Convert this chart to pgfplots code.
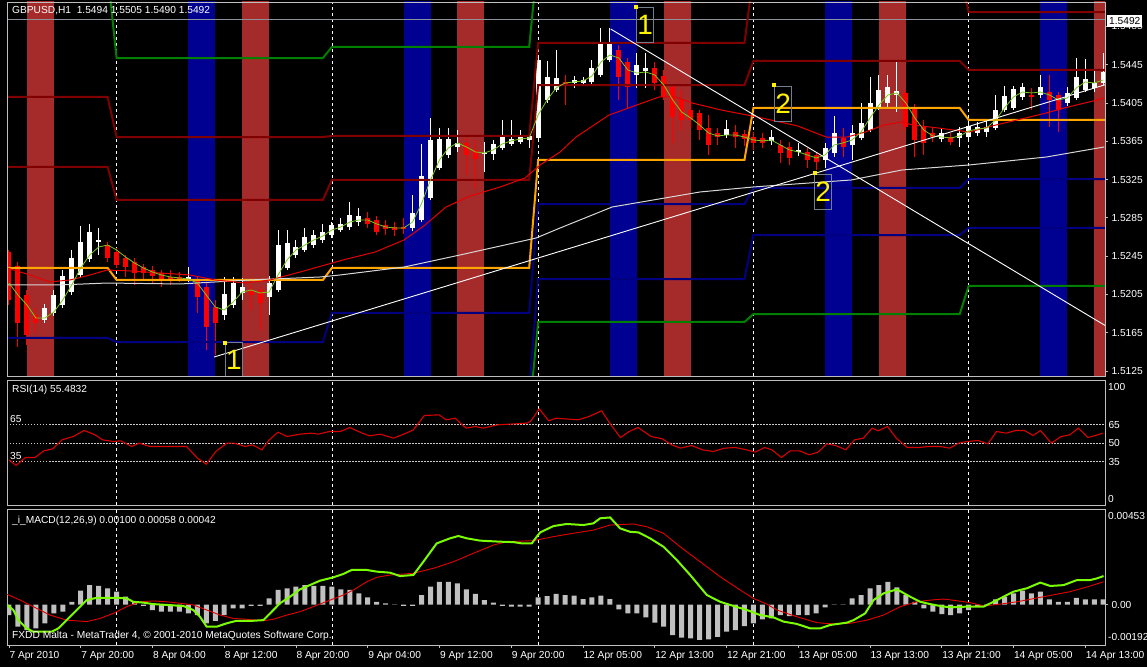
\documentclass[border=0pt]{standalone}
\usepackage{fontspec}
\setmainfont{Liberation Sans}
\usepackage{pgfplots}
\usepackage{pgfplotstable}
\pgfplotsset{compat=1.18}

\definecolor{bandred}{RGB}{165,42,42}
\definecolor{bandblue}{RGB}{0,0,145}
\definecolor{pivmaroon}{RGB}{128,0,0}
\definecolor{pivnavy}{RGB}{0,0,128}
\definecolor{pivgreen}{RGB}{0,128,0}
\definecolor{pivorange}{RGB}{255,165,0}
\definecolor{macdgreen}{RGB}{124,252,0}
\definecolor{histgray}{RGB}{192,192,192}
\definecolor{framec}{RGB}{190,190,190}
\definecolor{maslow}{RGB}{215,215,215}
\definecolor{mafast}{RGB}{120,200,30}
\definecolor{mared}{RGB}{230,0,0}
\definecolor{boxgray}{RGB}{112,128,144}
\definecolor{bidgray}{RGB}{140,145,155}

\newcommand{\mtf}{\fontsize{10.2}{12}\selectfont}

% GBPUSD H1 candles, bar index i
\pgfplotstableread{
i o h l c
4 1.51783 1.51950 1.51752 1.51908
5 1.51856 1.52096 1.51825 1.52044
6 1.51940 1.52305 1.51908 1.52243
7 1.52075 1.52514 1.52044 1.52430
8 1.52253 1.52765 1.52222 1.52598
9 1.52420 1.52786 1.52389 1.52702
10 1.52598 1.52744 1.52462 1.52619
20 1.52211 1.52336 1.52180 1.52232
24 1.51835 1.52232 1.51783 1.52054
25 1.51940 1.52232 1.51908 1.52169
26 1.52065 1.52222 1.51992 1.52128
29 1.52023 1.52243 1.51835 1.52169
30 1.52096 1.52723 1.52075 1.52566
31 1.52326 1.52723 1.52305 1.52587
32 1.52462 1.52619 1.52430 1.52545
33 1.52514 1.52744 1.52493 1.52650
34 1.52566 1.52723 1.52535 1.52671
35 1.52619 1.52786 1.52587 1.52702
36 1.52671 1.52806 1.52639 1.52775
37 1.52723 1.52848 1.52702 1.52786
38 1.52754 1.53015 1.52723 1.52880
39 1.52806 1.52953 1.52765 1.52869
45 1.52744 1.53088 1.52712 1.52901
46 1.52827 1.53621 1.52806 1.53287
47 1.53057 1.53893 1.53037 1.53663
48 1.53370 1.53788 1.53350 1.53673
49 1.53507 1.53788 1.53475 1.53673
50 1.53590 1.53767 1.53538 1.53632
53 1.53517 1.53642 1.53329 1.53527
54 1.53517 1.53663 1.53455 1.53621
55 1.53580 1.53872 1.53559 1.53694
56 1.53621 1.53872 1.53601 1.53673
57 1.53642 1.53767 1.53621 1.53694
58 1.53663 1.53746 1.53580 1.53705
59 1.53684 1.54551 1.53663 1.54498
60 1.54081 1.54488 1.54049 1.54321
61 1.54185 1.54603 1.54164 1.54310
63 1.54258 1.54331 1.54206 1.54290
64 1.54258 1.54321 1.54227 1.54290
65 1.54269 1.54498 1.54248 1.54415
66 1.54342 1.54833 1.54321 1.54676
67 1.54498 1.54833 1.54477 1.54676
70 1.54342 1.54571 1.54206 1.54446
71 1.54383 1.54571 1.54206 1.54415
80 1.53715 1.53872 1.53684 1.53778
85 1.53653 1.53767 1.53611 1.53694
88 1.53538 1.53632 1.53496 1.53559
91 1.53455 1.53632 1.53370 1.53580
92 1.53527 1.53914 1.53486 1.53736
94 1.53611 1.53820 1.53455 1.53736
95 1.53684 1.54049 1.53663 1.53840
96 1.53767 1.54321 1.53746 1.54049
97 1.54007 1.54342 1.53976 1.54185
98 1.54049 1.54342 1.53997 1.54216
99 1.54133 1.54477 1.53955 1.54175
104 1.53673 1.53788 1.53642 1.53736
106 1.53684 1.53799 1.53590 1.53736
107 1.53694 1.53872 1.53663 1.53809
108 1.53736 1.53851 1.53705 1.53799
109 1.53746 1.53872 1.53694 1.53799
110 1.53788 1.54133 1.53767 1.53976
111 1.53976 1.54227 1.53955 1.54122
112 1.53997 1.54227 1.53976 1.54195
113 1.54112 1.54258 1.54081 1.54216
115 1.54133 1.54342 1.54102 1.54216
118 1.54049 1.54216 1.54018 1.54154
119 1.54102 1.54519 1.54081 1.54321
120 1.54185 1.54509 1.54164 1.54300
121 1.54206 1.54394 1.54164 1.54258
122 1.54258 1.54571 1.54237 1.54373
}\bull

\pgfplotstableread{
i o h l c
0 1.52493 1.52514 1.51940 1.51992
1 1.52347 1.52389 1.51501 1.51752
2 1.52044 1.52096 1.51522 1.51626
3 1.51835 1.51908 1.51647 1.51752
11 1.52566 1.52598 1.52389 1.52430
12 1.52493 1.52535 1.52326 1.52357
13 1.52430 1.52462 1.52232 1.52336
14 1.52389 1.52430 1.52149 1.52274
15 1.52336 1.52368 1.52201 1.52274
16 1.52305 1.52347 1.52169 1.52243
17 1.52274 1.52305 1.52128 1.52201
18 1.52232 1.52305 1.52149 1.52201
19 1.52232 1.52284 1.52180 1.52201
21 1.52201 1.52232 1.51856 1.52023
22 1.52128 1.52169 1.51470 1.51710
23 1.51919 1.51992 1.51417 1.51752
27 1.52096 1.52149 1.51887 1.52044
28 1.52096 1.52128 1.51678 1.51960
40 1.52848 1.52911 1.52744 1.52786
41 1.52827 1.52869 1.52671 1.52702
42 1.52775 1.52827 1.52671 1.52733
43 1.52754 1.52806 1.52660 1.52723
44 1.52754 1.52848 1.52681 1.52733
51 1.53632 1.53684 1.53298 1.53507
52 1.53559 1.53663 1.53162 1.53465
62 1.54269 1.54342 1.54028 1.54237
68 1.54603 1.54655 1.54081 1.54321
69 1.54477 1.54519 1.53997 1.54216
72 1.54415 1.54477 1.54185 1.54258
73 1.54331 1.54394 1.54081 1.54112
74 1.54216 1.54237 1.53632 1.53903
75 1.54081 1.54185 1.53767 1.53872
76 1.53976 1.54081 1.53788 1.53872
77 1.53945 1.53976 1.53663 1.53767
78 1.53788 1.53924 1.53507 1.53611
79 1.53736 1.53788 1.53611 1.53694
81 1.53746 1.53820 1.53580 1.53694
82 1.53726 1.53767 1.53601 1.53673
83 1.53694 1.53746 1.53559 1.53632
84 1.53684 1.53736 1.53580 1.53632
86 1.53611 1.53663 1.53423 1.53527
87 1.53590 1.53642 1.53402 1.53475
89 1.53538 1.53580 1.53370 1.53455
90 1.53507 1.53538 1.53350 1.53433
93 1.53684 1.53788 1.53486 1.53590
100 1.54154 1.54185 1.53767 1.53799
101 1.53997 1.54039 1.53486 1.53663
102 1.53799 1.53872 1.53507 1.53632
103 1.53736 1.53788 1.53642 1.53694
105 1.53694 1.53736 1.53611 1.53642
114 1.54133 1.54206 1.53976 1.54112
116 1.54164 1.54342 1.53799 1.54081
117 1.54133 1.54164 1.53746 1.53976
}\bear

% fast moving average
\pgfplotstableread{
i v
0 1.52169
1 1.52044
2 1.51940
3 1.51804
4 1.51804
5 1.51866
6 1.51992
7 1.52149
8 1.52326
9 1.52462
10 1.52545
11 1.52566
12 1.52514
13 1.52441
14 1.52378
15 1.52326
16 1.52284
17 1.52253
18 1.52232
19 1.52222
20 1.52211
21 1.52169
22 1.52044
23 1.51919
24 1.51887
25 1.51971
26 1.52075
27 1.52096
28 1.52065
29 1.52075
30 1.52253
31 1.52410
32 1.52514
33 1.52566
34 1.52619
35 1.52660
36 1.52723
37 1.52754
38 1.52806
39 1.52827
40 1.52827
41 1.52786
42 1.52754
43 1.52744
44 1.52744
45 1.52806
46 1.53000
47 1.53245
48 1.53455
49 1.53580
50 1.53632
51 1.53590
52 1.53538
53 1.53527
54 1.53559
55 1.53621
56 1.53653
57 1.53673
58 1.53684
59 1.53924
60 1.54081
61 1.54206
62 1.54258
63 1.54269
64 1.54279
65 1.54331
66 1.54477
67 1.54551
68 1.54519
69 1.54394
70 1.54362
71 1.54373
72 1.54342
73 1.54237
74 1.54081
75 1.53955
76 1.53893
77 1.53820
78 1.53736
79 1.53705
80 1.53715
81 1.53715
82 1.53694
83 1.53663
84 1.53653
85 1.53663
86 1.53611
87 1.53559
88 1.53538
89 1.53507
90 1.53475
91 1.53507
92 1.53611
93 1.53632
94 1.53663
95 1.53746
96 1.53893
97 1.54028
98 1.54133
99 1.54154
100 1.54049
101 1.53893
102 1.53767
103 1.53705
104 1.53694
105 1.53684
106 1.53705
107 1.53757
108 1.53778
109 1.53788
110 1.53872
111 1.53997
112 1.54112
113 1.54164
114 1.54154
115 1.54164
116 1.54133
117 1.54081
118 1.54102
119 1.54206
120 1.54269
121 1.54258
122 1.54290
}\mafastT

% MACD histogram
\pgfplotstableread{
i h
0 -0.00050
1 -0.00105
2 -0.00121
3 -0.00113
4 -0.00089
5 -0.00042
6 -0.00034
7 0.00013
8 0.00066
9 0.00092
10 0.00088
11 0.00077
12 0.00061
13 0.00037
14 0.00013
15 -0.00007
16 -0.00026
17 -0.00034
18 -0.00034
19 -0.00034
20 -0.00042
21 -0.00050
22 -0.00089
23 -0.00077
24 -0.00050
25 -0.00018
26 -0.00018
27 -0.00007
28 -0.00007
29 0.00029
30 0.00069
31 0.00077
32 0.00085
33 0.00092
34 0.00088
35 0.00088
36 0.00085
37 0.00072
38 0.00069
39 0.00053
40 0.00034
41 0.00013
42 0.00006
43 -0.00002
44 -0.00007
45 -0.00007
46 0.00045
47 0.00085
48 0.00108
49 0.00108
50 0.00100
51 0.00072
52 0.00050
53 0.00021
54 0.00009
55 -0.00007
56 -0.00010
57 -0.00010
58 -0.00010
59 0.00034
60 0.00040
61 0.00050
62 0.00045
63 0.00042
64 0.00026
65 0.00034
66 0.00042
67 0.00026
68 -0.00023
69 -0.00042
70 -0.00042
71 -0.00061
72 -0.00086
73 -0.00105
74 -0.00145
75 -0.00157
76 -0.00160
77 -0.00168
78 -0.00165
79 -0.00153
80 -0.00129
81 -0.00121
82 -0.00102
83 -0.00089
84 -0.00070
85 -0.00066
86 -0.00050
87 -0.00055
88 -0.00050
89 -0.00050
90 -0.00042
91 -0.00013
92 -0.00002
93 -0.00002
94 0.00029
95 0.00045
96 0.00077
97 0.00092
98 0.00108
99 0.00081
100 0.00045
101 0.00013
102 -0.00018
103 -0.00034
104 -0.00045
105 -0.00050
106 -0.00042
107 -0.00026
108 -0.00007
109 -0.00002
110 0.00025
111 0.00037
112 0.00053
113 0.00066
114 0.00053
115 0.00061
116 0.00025
117 0.00013
118 0.00013
119 0.00032
120 0.00025
121 0.00025
122 0.00025
}\macdhist

\pgfplotsset{
  mt/.style={
    scale only axis, width=1098pt,
    xmin=-0.22, xmax=122.2,
    axis line style={framec, line width=0.8pt},
    xtick=\empty,
    extra x ticks={12,36,59,83,107},
    extra x tick labels={},
    extra x tick style={grid=major, major tick length=0pt},
    x grid style={white, line width=0.7pt, dash pattern=on 3pt off 3pt},
    tick label style={font=\mtf, text=white},
    scaled y ticks=false,
    anchor=south west,
  },
  wick/.style={draw=none, mark=none, forget plot,
    error bars/.cd, y dir=plus, y explicit, error mark=none,
    error bar style={draw=#1, line width=1pt}},
  body/.style={draw=none, mark=none, forget plot,
    error bars/.cd, y dir=plus, y explicit, error mark=none,
    error bar style={draw=#1, line width=5pt}},
  piv/.style={#1, line width=2pt, forget plot},
}
\tikzset{
  lbl/.style={draw=boxgray, line width=0.8pt, text=yellow,
    font=\fontsize{28}{28}\selectfont, minimum width=17pt,
    minimum height=35pt, inner sep=0pt},
  ydot/.style={fill=yellow, inner sep=0pt, minimum size=3.5pt},
}

\begin{document}
\begin{tikzpicture}
\path[use as bounding box, fill=black] (0pt,0pt) rectangle (1147pt,667pt);

% ---------------- price panel ----------------
\begin{axis}[mt, name=price, at={(7pt,291pt)}, height=374pt,
  ymin=1.51198, ymax=1.55104,
  ytick={1.5125,1.5165,1.5205,1.5245,1.5285,1.5325,1.5365,1.5405,1.5445,1.5485},
  yticklabels={1.5125,1.5165,1.5205,1.5245,1.5285,1.5325,1.5365,1.5405,1.5445,1.5485},
  ytick pos=right, yticklabel pos=right, tick align=outside,
  major tick length=3pt, ytick style={framec, line width=0.8pt}]

% session bands
\addplot[draw=none, fill=bandred] coordinates {(2,1.50) (5,1.50) (5,1.56) (2,1.56)} --cycle;
\addplot[draw=none, fill=bandred] coordinates {(26,1.50) (29,1.50) (29,1.56) (26,1.56)} --cycle;
\addplot[draw=none, fill=bandred] coordinates {(50,1.50) (53,1.50) (53,1.56) (50,1.56)} --cycle;
\addplot[draw=none, fill=bandred] coordinates {(73,1.50) (76,1.50) (76,1.56) (73,1.56)} --cycle;
\addplot[draw=none, fill=bandred] coordinates {(97,1.50) (100,1.50) (100,1.56) (97,1.56)} --cycle;
\addplot[draw=none, fill=bandred] coordinates {(121,1.50) (124,1.50) (124,1.56) (121,1.56)} --cycle;
\addplot[draw=none, fill=bandblue] coordinates {(20,1.50) (23,1.50) (23,1.56) (20,1.56)} --cycle;
\addplot[draw=none, fill=bandblue] coordinates {(44,1.50) (47,1.50) (47,1.56) (44,1.56)} --cycle;
\addplot[draw=none, fill=bandblue] coordinates {(67,1.50) (70,1.50) (70,1.56) (67,1.56)} --cycle;
\addplot[draw=none, fill=bandblue] coordinates {(91,1.50) (94,1.50) (94,1.56) (91,1.56)} --cycle;
\addplot[draw=none, fill=bandblue] coordinates {(115,1.50) (118,1.50) (118,1.56) (115,1.56)} --cycle;

% bid line
\addplot[bidgray, line width=0.8pt] coordinates {(-1,1.5492) (124,1.5492)};

% candles
\addplot[wick=white] table[x=i, y=l, y error plus expr=\thisrow{h}-\thisrow{l}] {\bull};
\addplot[wick=red] table[x=i, y=l, y error plus expr=\thisrow{h}-\thisrow{l}] {\bear};
\addplot[body=white] table[x=i, y=o, y error plus expr=\thisrow{c}-\thisrow{o}] {\bull};
\addplot[body=red] table[x=i, y=c, y error plus expr=\thisrow{o}-\thisrow{c}] {\bear};

% daily pivot levels
\addplot[piv=pivgreen] coordinates {(-1,1.5540) (11,1.5540) (12,1.54519) (35,1.54519) (36,1.54634) (58,1.54634) (59,1.5560) (124,1.5560)};
\addplot[piv=pivmaroon] coordinates {(-1,1.54112) (11,1.54112) (12,1.53694) (35,1.53694) (36,1.53705) (58,1.53705) (59,1.54676) (82,1.54676) (83,1.5540) (106,1.5540) (107,1.54999) (124,1.54999)};
\addplot[piv=pivmaroon] coordinates {(-1,1.53381) (11,1.53381) (12,1.53037) (35,1.53037) (36,1.53245) (58,1.53245) (59,1.54237) (82,1.54237) (83,1.54488) (106,1.54488) (107,1.54394) (124,1.54394)};
\addplot[piv=pivorange] coordinates {(-1,1.52326) (11,1.52326) (12,1.52201) (35,1.52201) (36,1.52326) (58,1.52326) (59,1.53455) (82,1.53455) (83,1.53997) (106,1.53997) (107,1.53872) (124,1.53872)};
\addplot[piv=pivnavy] coordinates {(-1,1.51595) (11,1.51595) (12,1.51553) (35,1.51553) (36,1.51856) (58,1.51856) (59,1.52994) (82,1.52994) (83,1.53162) (106,1.53162) (107,1.53255) (124,1.53255)};
\addplot[piv=pivnavy] coordinates {(-1,1.5100) (35,1.5100) (36,1.5105) (58,1.5105) (59,1.52211) (82,1.52211) (83,1.52670) (106,1.52670) (107,1.52744) (124,1.52744)};
\addplot[piv=pivgreen] coordinates {(-1,1.5080) (58,1.5080) (59,1.51762) (82,1.51762) (83,1.51845) (106,1.51845) (107,1.52138) (124,1.52138)};

% moving averages
\addplot[maslow, line width=1pt] coordinates {(-0.22,1.52149) (5.69,1.52149) (10.93,1.52169) (19.07,1.52159) (26.88,1.52201) (34.68,1.52232) (36.91,1.52253) (44.05,1.52336) (50.30,1.52462) (58.77,1.52639) (61.45,1.52744) (67.25,1.52963) (77.06,1.53120) (82.97,1.53172) (93.90,1.53245) (99.59,1.53350) (107.06,1.53402) (115.65,1.53485) (122.11,1.53590)};
\addplot[mared, line width=1pt] coordinates {(-0.22,1.52326) (2.34,1.52253) (4.57,1.52180) (6.80,1.52201) (9.03,1.52253) (10.93,1.52305) (13.49,1.52295) (16.84,1.52274) (20.19,1.52253) (22.97,1.52201) (26.32,1.52169) (29.11,1.52201) (32.45,1.52284) (37.25,1.52410) (40.82,1.52493) (44.05,1.52619) (46.39,1.52775) (48.73,1.52963) (51.41,1.53078) (54.76,1.53172) (57.54,1.53266) (59.22,1.53402) (61.45,1.53538) (63.23,1.53694) (66.91,1.53924) (69.70,1.54018) (72.49,1.54112) (74.27,1.54112) (76.17,1.54049) (79.40,1.53976) (83.42,1.53903) (87.90,1.53810) (91.11,1.53694) (93.45,1.53694) (95.46,1.53746) (97.58,1.53820) (99.59,1.53851) (100.70,1.53820) (103.60,1.53788) (107.06,1.53746) (110.07,1.53820) (112.41,1.53872) (115.65,1.53945) (117.65,1.53997) (121.33,1.54081) (122.11,1.54102)};
\addplot[mafast, line width=0.8pt] table[x=i, y=v] {\mafastT};

% trend lines
\addplot[white, line width=0.9pt] coordinates {(22.86,1.51396) (124,1.54291)};
\addplot[white, line width=0.9pt] coordinates {(67.08,1.54822) (124,1.51625)};

% wave labels
\node[lbl] at (axis cs:70.93,1.54864) {1};
\node[ydot] at (axis cs:69.92,1.55052) {};
\node[lbl] at (axis cs:86.32,1.54044) {2};
\node[ydot] at (axis cs:85.31,1.54237) {};
\node[lbl] at (axis cs:90.78,1.53125) {2};
\node[ydot] at (axis cs:89.88,1.53318) {};
\node[lbl] at (axis cs:25.09,1.51370) {1};
\node[ydot] at (axis cs:24.09,1.51543) {};
\end{axis}
\draw[framec, line width=0.8pt] (price.south west) rectangle (price.north east);

% ---------------- RSI panel ----------------
\begin{axis}[mt, name=rsi, at={(7pt,162pt)}, height=125pt,
  ymin=0, ymax=101.4,
  ytick={35,50,65}, yticklabels={35,50,65},
  ytick pos=right, yticklabel pos=right, major tick length=0pt,
  ymajorgrids, y grid style={white!80!black, line width=0.8pt, dash pattern=on 1.5pt off 1.5pt}]
\addplot[red!85!black, line width=1.1pt] coordinates {(0,36.65) (0.79,32.06) (1.85,38.54) (2.91,38.54) (3.89,43.95) (4.87,45.57) (5.93,52.87) (7.15,55.57) (8.38,60.44) (9.60,56.92) (10.42,52.87) (11.64,51.52) (12.46,52.06) (13.68,47.46) (14.50,50.16) (15.72,47.46) (19.80,47.46) (21.02,38.0) (22.00,33.14) (23.06,43.41) (24.29,50.16) (25.10,50.16) (26.33,47.46) (27.14,48.81) (28.20,44.76) (29.02,52.87) (30.00,59.08) (30.98,55.57) (32.44,57.46) (33.67,58.27) (34.48,57.46) (35.71,59.62) (36.93,59.62) (37.99,62.87) (39.38,58.27) (40.19,56.11) (41.42,57.46) (42.88,54.22) (44.27,58.27) (45.09,60.98) (46.31,72.60) (47.94,73.14) (48.76,69.08) (49.74,70.43) (50.96,62.33) (52.02,63.68) (52.84,62.33) (54.47,65.03) (57.73,66.38) (58.14,67.73) (59.12,78.0) (60.18,68.27) (61.00,70.43) (63.45,69.08) (64.67,71.78) (66.06,76.38) (67.12,65.03) (68.18,54.76) (69.15,59.62) (70.13,62.87) (71.60,55.57) (72.83,53.68) (73.89,48.81) (74.86,46.11) (76.09,48.27) (77.31,44.76) (78.54,43.41) (79.76,46.11) (80.98,46.65) (82.21,44.76) (83.19,42.87) (84.25,46.65) (85.06,44.76) (86.12,38.54) (87.10,43.95) (88.16,43.95) (89.22,40.71) (90.20,42.87) (91.18,49.62) (92.16,48.27) (93.30,44.76) (94.28,52.87) (95.26,54.22) (96.24,62.33) (96.89,60.17) (97.95,63.68) (98.93,54.22) (100.15,46.65) (101.38,46.65) (102.60,47.46) (103.83,47.46) (104.89,46.11) (105.87,50.16) (106.84,51.52) (108.07,52.33) (109.13,49.62) (110.11,59.62) (111.17,58.27) (112.23,60.44) (113.21,60.44) (114.19,56.38) (115.00,60.44) (116.22,50.16) (117.29,55.57) (118.27,56.92) (119.24,62.33) (120.30,54.76) (121.37,56.92) (121.94,58.27)};
\end{axis}

% ---------------- MACD panel ----------------
\begin{axis}[mt, name=macd, at={(7pt,22pt)}, height=136pt,
  ymin=-0.00192, ymax=0.00453,
  ytick={0}, yticklabels={0.00},
  ytick pos=right, yticklabel pos=right,
  xtick={0,8,16,24,32,40,48,56,64,72,80,88,96,104,112,120},
  xticklabels={7 Apr 2010, 7 Apr 20:00, 8 Apr 04:00, 8 Apr 12:00, 8 Apr 20:00, 9 Apr 04:00, 9 Apr 12:00, 9 Apr 20:00, 12 Apr 05:00, 12 Apr 13:00, 12 Apr 21:00, 13 Apr 05:00, 13 Apr 13:00, 13 Apr 21:00, 14 Apr 05:00, 14 Apr 13:00},
  xtick pos=bottom, tick align=outside, major tick length=3pt,
  tick style={framec, line width=0.8pt},
  xticklabel style={anchor=north west, xshift=-3pt}]
\addplot[ybar, bar width=5pt, fill=histgray, draw=none] table[x=i, y=h] {\macdhist};
\addplot[mared, line width=0.9pt] coordinates {(-0.19,0.00048) (1.23,0.00021) (2.71,-0.00010) (4.57,-0.00050) (6.43,-0.00074) (8.66,-0.00081) (10.15,-0.00066) (11.63,-0.00042) (13.13,-0.00010) (14.61,0.00013) (16.09,0.00017) (17.58,0.00013) (19.07,0.00006) (20.55,-0.00002) (22.04,-0.00026) (23.53,-0.00050) (25.01,-0.00066) (26.51,-0.00070) (28.36,-0.00077) (29.48,-0.00070) (30.97,-0.00050) (32.45,-0.00034) (33.93,-0.00010) (35.80,0.00021) (37.28,0.00045) (38.40,0.00069) (39.89,0.00108) (41.00,0.00129) (42.49,0.00140) (45.09,0.00148) (47.32,0.00172) (49.55,0.00203) (51.78,0.00243) (54.01,0.00282) (55.50,0.00298) (58.47,0.00303) (60.70,0.00322) (62.93,0.00338) (65.16,0.00353) (67.02,0.00377) (69.62,0.00382) (71.11,0.00369) (72.97,0.00338) (74.83,0.00274) (77.06,0.00203) (79.29,0.00132) (81.52,0.00069) (83.00,0.00029) (84.50,0.00002) (85.61,-0.00026) (87.84,-0.00058) (90.07,-0.00086) (91.93,-0.00092) (93.79,-0.00089) (95.65,-0.00074) (97.51,-0.00050) (99.37,-0.00010) (101.22,0.00013) (102.71,0.00021) (104.20,0.00026) (105.69,0.00018) (107.17,0.00009) (108.66,-0.00007) (110.52,0.00002) (112.38,0.00013) (115.34,0.00037) (118.32,0.00061) (120.56,0.00088) (122.04,0.00108)};
\addplot[macdgreen, line width=2pt] coordinates {(-0.19,-0.00002) (0.48,-0.00026) (1.04,-0.00074) (1.97,-0.00113) (2.71,-0.00129) (3.83,-0.00129) (4.76,-0.00129) (5.50,-0.00113) (6.43,-0.00074) (7.55,-0.00026) (8.66,0.00021) (9.78,0.00032) (12.01,0.00032) (13.13,0.00029) (13.86,0.00013) (14.98,0.00009) (16.09,0.00002) (17.58,-0.00002) (19.44,-0.00007) (20.55,-0.00026) (21.30,-0.00058) (22.04,-0.00105) (23.16,-0.00105) (24.28,-0.00089) (25.39,-0.00077) (27.25,-0.00077) (28.36,-0.00074) (29.11,-0.00042) (30.22,0.00006) (31.34,0.00037) (32.45,0.00072) (34.68,0.00113) (36.17,0.00129) (37.28,0.00145) (38.21,0.00164) (39.89,0.00164) (41.00,0.00156) (42.49,0.00151) (43.60,0.00135) (45.09,0.00140) (46.20,0.00203) (47.69,0.00290) (49.18,0.00314) (50.11,0.00325) (51.04,0.00314) (52.53,0.00303) (54.76,0.00298) (56.24,0.00296) (57.17,0.00290) (58.29,0.00290) (58.85,0.00322) (59.22,0.00342) (60.70,0.00372) (62.19,0.00382) (64.05,0.00377) (65.16,0.00385) (65.91,0.00409) (67.02,0.00413) (68.14,0.00361) (69.25,0.00345) (70.18,0.00342) (71.48,0.00314) (72.97,0.00274) (74.46,0.00211) (75.95,0.00140) (77.81,0.00045) (79.29,0.00013) (80.78,-0.00007) (82.27,-0.00026) (83.75,-0.00050) (85.24,-0.00061) (86.35,-0.00081) (87.84,-0.00092) (89.33,-0.00113) (90.44,-0.00113) (91.56,-0.00097) (93.42,-0.00086) (94.16,-0.00074) (95.46,-0.00042) (96.39,0.00021) (97.51,0.00053) (99.00,0.00072) (100.48,0.00037) (101.60,0.00013) (102.71,0.00002) (104.20,-0.00010) (105.31,-0.00013) (106.80,-0.00010) (108.66,-0.00010) (109.77,0.00013) (112.00,0.00061) (113.49,0.00077) (114.98,0.00104) (116.09,0.00088) (117.58,0.00092) (119.07,0.00116) (120.56,0.00116) (121.30,0.00124) (122.04,0.00135)};
\end{axis}

% ---------------- texts ----------------
\begin{scope}[every node/.style={font=\mtf, text=white, inner sep=0pt}]
\node[anchor=west] at (12pt,656pt) {GBPUSD,H1\ \ 1.5494 1.5505 1.5490 1.5492};
\node[anchor=west] at (12pt,277pt) {RSI(14) 55.4832};
\node[anchor=west] at (10pt,248pt) {65};
\node[anchor=west] at (10pt,211pt) {35};
\node[anchor=west] at (1108pt,280pt) {100};
\node[anchor=west] at (1108pt,168pt) {0};
\node[anchor=west] at (12pt,146pt) {\_i\_MACD(12,26,9) 0.00100 0.00058 0.00042};
\node[anchor=west] at (1108pt,151pt) {0.00453};
\node[anchor=west] at (1108pt,30pt) {-0.00192};
\node[anchor=west] at (12pt,31pt) {FXDD Malta - MetaTrader 4, © 2001-2010 MetaQuotes Software Corp.};
\node[anchor=west, fill=white, text=black, inner xsep=2pt, inner ysep=2.5pt] at (1107pt,646pt) {1.5492};
\end{scope}
\end{tikzpicture}
\end{document}
